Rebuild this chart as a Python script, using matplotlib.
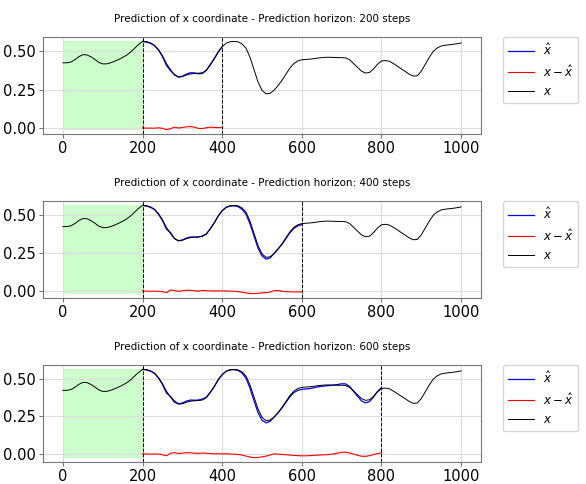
import numpy as np
import matplotlib
matplotlib.use("Agg")
import matplotlib.pyplot as plt

# time axis, one sample every 10 steps
steps = np.arange(0, 1001, 10)

# true x coordinate
x_true = [
    0.425, 0.425, 0.430, 0.445, 0.465, 0.478, 0.477, 0.465, 0.448, 0.428,
    0.418, 0.418, 0.425, 0.435, 0.447, 0.460, 0.475, 0.495, 0.520, 0.545,
    0.565, 0.563, 0.555, 0.540, 0.510, 0.470, 0.420, 0.380, 0.345, 0.333,
    0.335, 0.345, 0.352, 0.355, 0.357, 0.360, 0.375, 0.410, 0.450, 0.495,
    0.530, 0.553, 0.563, 0.565, 0.562, 0.548, 0.520, 0.460, 0.380, 0.300,
    0.245, 0.222, 0.225, 0.245, 0.275, 0.310, 0.350, 0.390, 0.420, 0.437,
    0.445, 0.447, 0.449, 0.452, 0.456, 0.459, 0.461, 0.461, 0.460, 0.459,
    0.459, 0.457, 0.445, 0.420, 0.395, 0.370, 0.358, 0.362, 0.385, 0.415,
    0.437, 0.440, 0.435, 0.420, 0.403, 0.385, 0.368, 0.350, 0.338, 0.340,
    0.370, 0.415, 0.460, 0.500, 0.522, 0.535, 0.540, 0.543, 0.546, 0.550,
    0.555,
]

# prediction offsets from step 200 up to the horizon (10-step samples)
err_200 = [
    0.000, -0.003, -0.002, -0.003, 0.000, -0.004, -0.012, -0.006, 0.004, -0.002,
    0.002, 0.006, 0.008, 0.004, -0.004, -0.005, 0.000, 0.004, 0.002, 0.001,
    0.002,
]
err_400 = [
    0.000, -0.002, -0.003, -0.002, -0.003, -0.005, -0.012, 0.006, 0.002, -0.003,
    0.001, 0.004, 0.004, 0.001, -0.002, 0.003, 0.001, 0.000, -0.001, 0.000,
    0.000, -0.001, -0.002, -0.003, -0.005, -0.009, -0.014, -0.018, -0.018, -0.017,
    -0.013, -0.012, -0.008, 0.001, 0.002, -0.003, -0.005, -0.006, -0.007, -0.007,
    -0.006,
]
err_600 = [
    0.000, -0.001, -0.002, -0.001, -0.002, -0.006, -0.013, 0.004, 0.009, 0.002,
    0.005, 0.008, 0.008, 0.004, 0.003, 0.006, 0.004, 0.002, 0.000, 0.001,
    0.000, 0.000, -0.001, -0.002, -0.004, -0.008, -0.015, -0.022, -0.025, -0.024,
    -0.020, -0.015, -0.008, 0.000, -0.002, -0.004, -0.006, -0.008, -0.010, -0.012,
    -0.013, -0.013, -0.012, -0.010, -0.008, -0.007, -0.006, -0.004, 0.000, 0.005,
    0.010, 0.011, 0.006, -0.002, -0.010, -0.016, -0.017, -0.012, -0.005, 0.002,
    0.007,
]

horizons = [200, 400, 600]
errors = [err_200, err_400, err_600]
start = 200

x_true = np.array(x_true)

fig = plt.figure(figsize=(5.86, 4.84), dpi=100)
tops = [37, 201, 365]  # axes top edges in pixels
ax_h = 97

for horizon, err, top in zip(horizons, errors, tops):
    ax = fig.add_axes([43 / 586, 1 - (top + ax_h) / 484, 438 / 586, ax_h / 484])
    err = np.array(err)
    t_pred = np.arange(start, start + horizon + 1, 10)
    i0 = start // 10
    x_hat = x_true[i0:i0 + len(t_pred)] + err

    ax.plot(t_pred, x_hat, color='blue', lw=0.9, label=r'$\hat{x}$')
    ax.plot(t_pred, err, color='red', lw=0.8, label=r'$x - \hat{x}$')
    ax.plot(steps, x_true, color='black', lw=0.7, label=r'$x$')

    # known history region
    lo = min(x_true.min(), err.min())
    hi = max(x_true.max(), x_hat.max())
    ax.fill_between([0, start], lo, hi, color='lime', alpha=0.2, lw=0)

    ax.axvline(start, color='black', ls='--', lw=0.7)
    ax.axvline(start + horizon, color='black', ls='--', lw=0.7)

    ax.set_xticks([0, 200, 400, 600, 800, 1000])
    ax.set_yticks([0.0, 0.25, 0.5])
    ax.set_yticklabels(['0.00', '0.25', '0.50'])
    ax.tick_params(labelsize=10.5, length=3, pad=2, color='#777777')
    ax.grid(True, color='#dddddd', lw=0.8)
    for s in ax.spines.values():
        s.set_color('#777777')
        s.set_linewidth(0.8)
    ax.set_title(f'Prediction of x coordinate - Prediction horizon: {horizon} steps',
                 fontsize=7.5, pad=11)
    ax.legend(bbox_to_anchor=(1.05, 1), loc='upper left', fontsize=8.5,
              borderaxespad=0., handlelength=2.2)

fig.savefig('out.png', dpi=100)
